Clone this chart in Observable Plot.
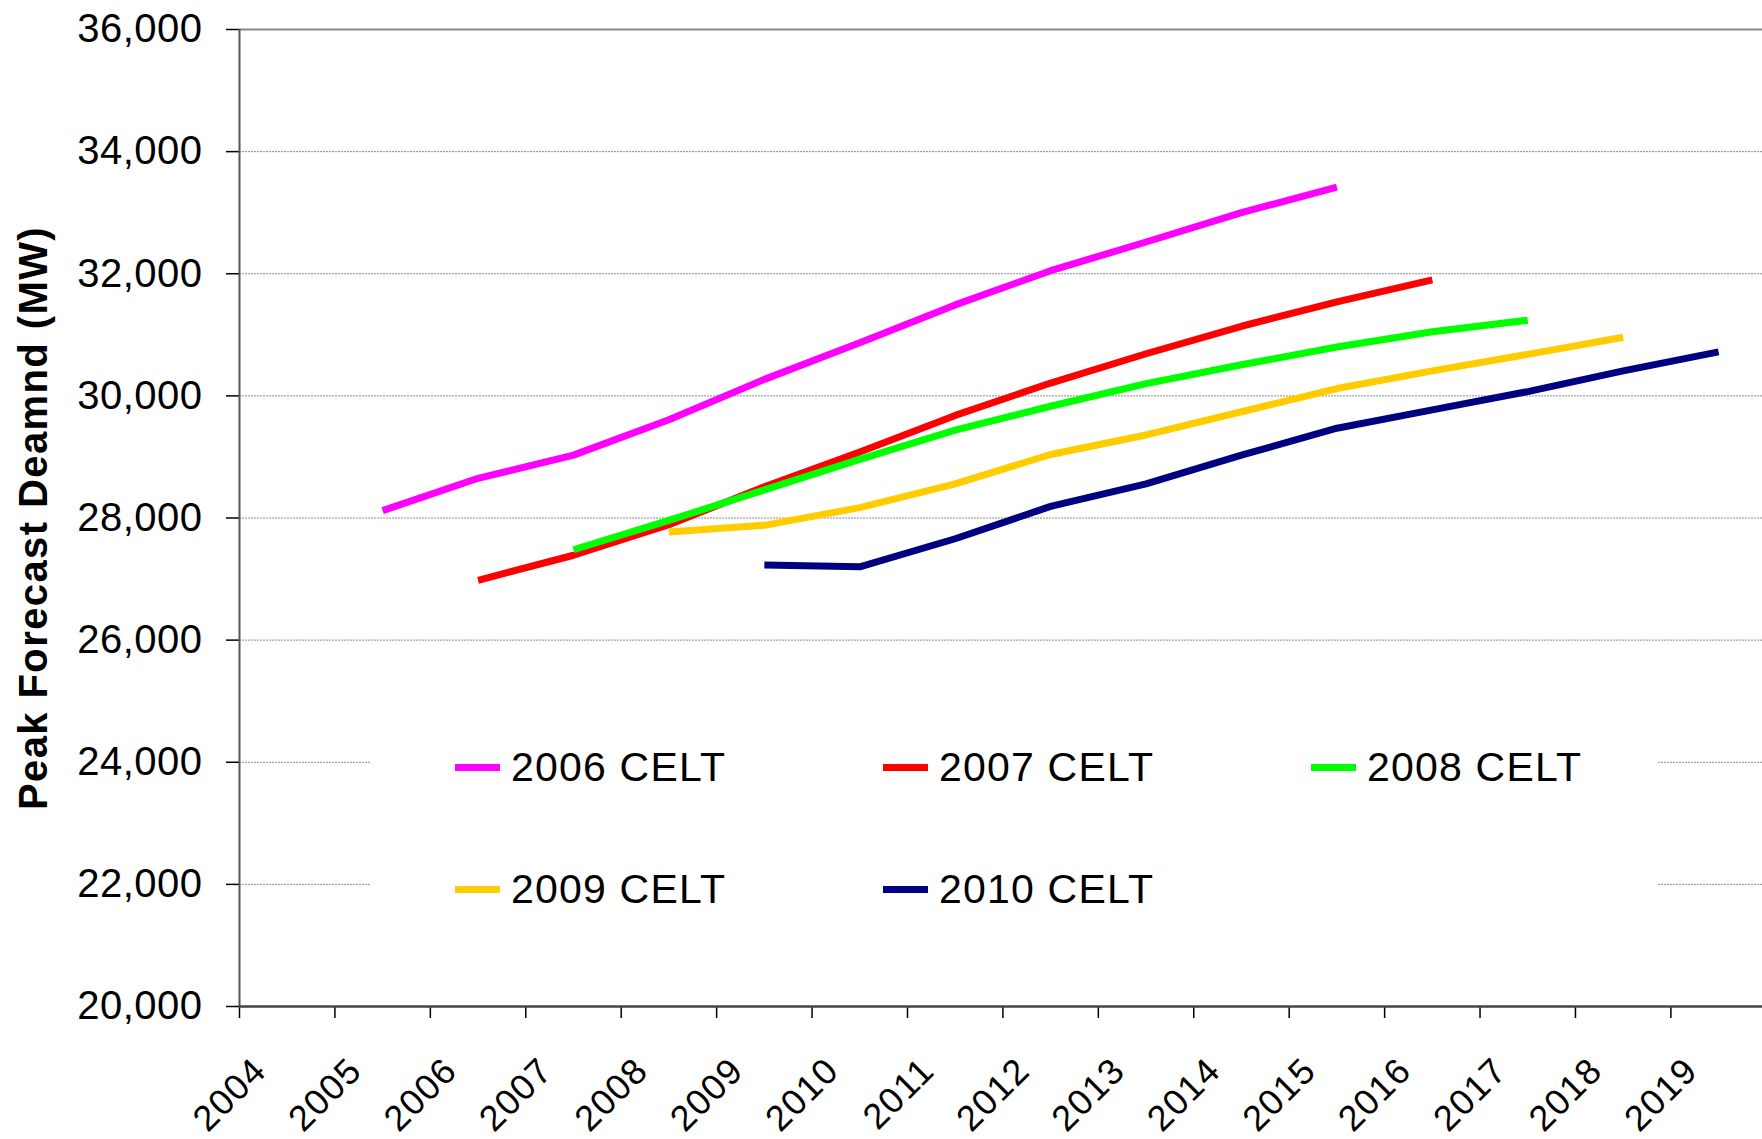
<!DOCTYPE html>
<html>
<head>
<meta charset="utf-8">
<script src="https://cdn.jsdelivr.net/npm/d3@7"></script>
<script src="https://cdn.jsdelivr.net/npm/@observablehq/plot@0.6"></script>
<style>
  body { margin: 0; background: #fff; }
  #chart { position: relative; width: 1762px; height: 1139px; font-family: "Liberation Sans", Arial, sans-serif; }
  #chart svg [aria-label="y-axis tick label"] { letter-spacing: 0.5px; }
  #chart svg [aria-label="x-axis tick label"] { letter-spacing: 1.4px; }
  #legend {
    position: absolute; left: 371px; top: 706px; width: 1287px; height: 244px;
    background: #fff; box-sizing: border-box; padding-left: 84px;
    display: grid; grid-template-columns: 428px 428px 428px; grid-auto-rows: 122px;
  }
  .item { display: flex; align-items: center; font-size: 41px; letter-spacing: 1.2px; color: #000; white-space: nowrap; }
  .swatch { width: 45px; height: 7px; margin-right: 11px; flex: none; }
</style>
</head>
<body>
<div id="chart"></div>
<script>
// Forecast vintages and their colours
const series = ["2006 CELT", "2007 CELT", "2008 CELT", "2009 CELT", "2010 CELT"];
const colors = ["#ff00ff", "#ff0000", "#00ff00", "#ffcc00", "#000080"];
// First forecast year of each vintage
const startYears = [2005, 2006, 2007, 2008, 2009];

// Peak forecast demand (MW), one value per year from the start year
const celt2006 = [28120, 28650, 29030, 29610, 30270, 30870, 31490, 32050, 32520, 33000, 33420];
const celt2007 = [26980, 27390, 27890, 28510, 29080, 29680, 30210, 30690, 31140, 31540, 31900];
const celt2008 = [27480, 27960, 28460, 28960, 29440, 29830, 30200, 30510, 30800, 31050, 31240];
const celt2009 = [27770, 27880, 28170, 28560, 29040, 29360, 29740, 30120, 30410, 30680, 30960];
const celt2010 = [27230, 27200, 27660, 28190, 28560, 29030, 29470, 29770, 30070, 30410, 30720];

// Axis ticks
const yearLabels = d3.range(2004, 2020);
const yTicks = d3.range(20000, 36001, 2000);

const values = [celt2006, celt2007, celt2008, celt2009, celt2010];
const rows = values.flatMap((vals, i) =>
  vals.map((mw, j) => ({series: series[i], year: startYears[i] + j, mw}))
);
// Category boundaries sit half a year either side of each label
const boundaries = yearLabels.map((y) => y - 0.5);

const font = '"Liberation Sans", Arial, sans-serif';

const chart = Plot.plot({
  width: 1762,
  height: 1139,
  marginLeft: 239,
  marginRight: 0,
  marginTop: 29,
  marginBottom: 133,
  style: {fontFamily: font, background: "#fff", color: "#000", overflow: "visible", letterSpacing: "1.4px"},
  x: {type: "linear", domain: [2003.5, 2019.46]},
  y: {domain: [20000, 36000]},
  color: {domain: series, range: colors},
  marks: [
    Plot.gridY(yTicks, {stroke: "#8c8c8c", strokeOpacity: 1, strokeWidth: 1, strokeDasharray: "2,1"}),
    Plot.ruleY([36000], {stroke: "#888", strokeWidth: 2}),
    Plot.axisY({
      ticks: yTicks, tickFormat: d3.format(","), tickSize: 13, tickPadding: 24,
      fontSize: 40, label: null, strokeWidth: 1.5
    }),
    Plot.axisX({
      ticks: boundaries, tickSize: 12, tickFormat: () => "", label: null, strokeWidth: 1.5
    }),
    Plot.axisX({
      ticks: yearLabels, tickSize: 0, tickPadding: 0, tickRotate: -45,
      textAnchor: "end", lineAnchor: "middle", dx: -27, dy: 58,
      tickFormat: (d) => String(d), fontSize: 36, label: null
    }),
    Plot.ruleX([2003.5], {stroke: "#555", strokeWidth: 2}),
    Plot.ruleY([20000], {stroke: "#444", strokeWidth: 2.5}),
    Plot.line(rows, {
      x: "year", y: "mw", z: "series", stroke: "series",
      strokeWidth: 7, strokeLinecap: "butt", strokeLinejoin: "round"
    }),
    Plot.text(["Peak Forecast Deamnd (MW)"], {
      frameAnchor: "left", textAnchor: "middle", lineAnchor: "middle", rotate: -90, dx: -205,
      fontSize: 40, fontWeight: "bold", fill: "#000"
    })
  ]
});

const container = document.getElementById("chart");
container.appendChild(chart);

// Legend box inside the plot area
const legend = document.createElement("div");
legend.id = "legend";
series.forEach((name, i) => {
  const item = document.createElement("div");
  item.className = "item";
  const sw = document.createElement("span");
  sw.className = "swatch";
  sw.style.background = colors[i];
  const label = document.createElement("span");
  label.textContent = name;
  item.appendChild(sw);
  item.appendChild(label);
  legend.appendChild(item);
});
container.appendChild(legend);
</script>
</body>
</html>
